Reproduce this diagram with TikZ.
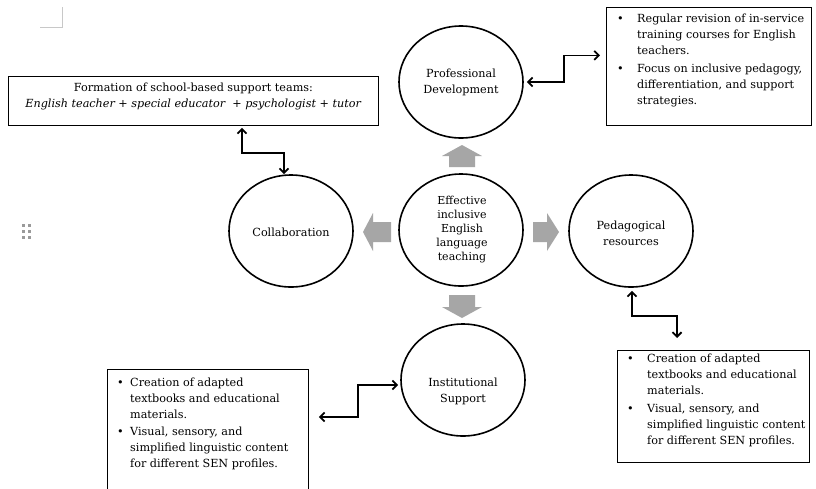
\documentclass[tikz,border=0pt]{standalone}
\usepackage{fontspec}
\setmainfont{DejaVu Serif}
\usetikzlibrary{shapes.geometric,arrows.meta,calc}
\definecolor{blockgray}{HTML}{A6A6A6}
\definecolor{markgray}{HTML}{C8C8C8}
\definecolor{dotgray}{HTML}{9A9A9A}
\newcommand{\mylines}[1]{\begin{tabular}[t]{@{}l@{}}#1\end{tabular}}
\begin{document}
\begin{tikzpicture}[x=1pt,y=-1pt,
  ell/.style={ellipse, draw, line width=1.6pt, minimum width=124pt, minimum height=112pt, inner sep=0pt},
  lbl/.style={font=\fontsize{11.2}{16}\selectfont, align=center, inner sep=0pt},
  clbl/.style={font=\fontsize{11}{14}\selectfont, align=center, inner sep=0pt},
  boxtxt/.style={font=\fontsize{11.2}{16}\selectfont, inner sep=0pt, anchor=base west},
  box/.style={draw, line width=0.8pt, inner sep=0pt, anchor=north west},
  conn/.style={line width=1.8pt, {Straight Barb[length=4.5pt,width=9pt]}-{Straight Barb[length=4.5pt,width=9pt]}},
  blk/.style={fill=blockgray, draw=none}
]
\useasboundingbox (0,0) rectangle (816,488);
\fill[white] (0,0) rectangle (816,488);
\clip (0,0) rectangle (816,488);

% page marks
\draw[markgray, line width=0.8pt] (62,7) -- (62,27) -- (40,27);
\foreach \x in {23,29} \foreach \y in {225,231,237}
  \fill[dotgray] (\x-1.5,\y-1.5) rectangle ++(3,3);

% ellipses
\node[ell] (pd) at (461,82) {};
\node[ell] (collab) at (291,231) {};
\node[ell] (center) at (461,230) {};
\node[ell] (ped) at (631,231) {};
\node[ell] (is) at (463,380) {};

\node[lbl] (pdt) at (461,82) {Professional\\Development};
\node[lbl] (colt) at (291,232) {Collaboration};
\node[clbl] (cent) at (462,230) {Effective\\inclusive\\English\\language\\teaching};
\node[lbl] (pedt) at (631,233) {Pedagogical\\resources};
\node[lbl] (ist) at (463,391) {Institutional\\Support};

% boxes
\node[box, minimum width=370pt, minimum height=49pt] (tl) at (8,76) {};
\node[box, minimum width=205pt, minimum height=118pt] (tr) at (606,7) {};
\node[box, minimum width=192pt, minimum height=112pt] (br) at (617,350) {};
\node[box, minimum width=201pt, minimum height=140pt] (bl) at (107,369) {};

\node[lbl] (tlt) at ($(tl.center)+(0,-4)$) {Formation of school-based support teams:\\\textit{English teacher + special educator \ + psychologist + tutor}};

\node[boxtxt] (trb1) at (617,22) {•};
\node[boxtxt] (trt1) at (637,22) {\mylines{Regular revision of in-service\\training courses for English\\teachers.}};
\node[boxtxt] (trb2) at (617,72) {•};
\node[boxtxt] (trt2) at (637,72) {\mylines{Focus on inclusive pedagogy,\\differentiation, and support\\strategies.}};

\node[boxtxt] (brb1) at (627,362) {•};
\node[boxtxt] (brt1) at (647,362) {\mylines{Creation of adapted\\textbooks and educational\\materials.}};
\node[boxtxt] (brb2) at (627,412) {•};
\node[boxtxt] (brt2) at (647,412) {\mylines{Visual, sensory, and\\simplified linguistic content\\for different SEN profiles.}};

\node[boxtxt] (blb1) at (117,386) {•};
\node[boxtxt] (blt1) at (130,386) {\mylines{Creation of adapted\\textbooks and educational\\materials.}};
\node[boxtxt] (blb2) at (117,435) {•};
\node[boxtxt] (blt2) at (130,435) {\mylines{Visual, sensory, and\\simplified linguistic content\\for different SEN profiles.}};

% gray block arrows
\fill[blk] (449,167) -- (449,156) -- (442,156) -- (462,145) -- (482,156) -- (475,156) -- (475,167) -- cycle;
\fill[blk] (449,295) -- (449,307) -- (442,307) -- (462,318) -- (482,307) -- (475,307) -- (475,295) -- cycle;
\fill[blk] (391,222) -- (373,222) -- (373,213) -- (363,232) -- (373,251) -- (373,242) -- (391,242) -- cycle;
\fill[blk] (533,222) -- (547,222) -- (547,213) -- (559,232) -- (547,251) -- (547,242) -- (533,242) -- cycle;

% connectors
\draw[conn] ($(tl.south west)+(234,2)$) -- ++(0,25) -| ($(collab.north)+(-7,0)$);
\draw[conn] ($(pd.east)+(3,0)$) -- ++(37,0) |- ($(tr.west)+(-6,-11)$);
\draw[conn] ($(ped.south)+(1,3)$) -- ++(0,25) -| ($(br.north west)+(60,-12)$);
\draw[conn] ($(is.west)+(-2,5)$) -- ++(-40,0) |- ($(bl.north east)+(10,48)$);
\end{tikzpicture}
\end{document}
